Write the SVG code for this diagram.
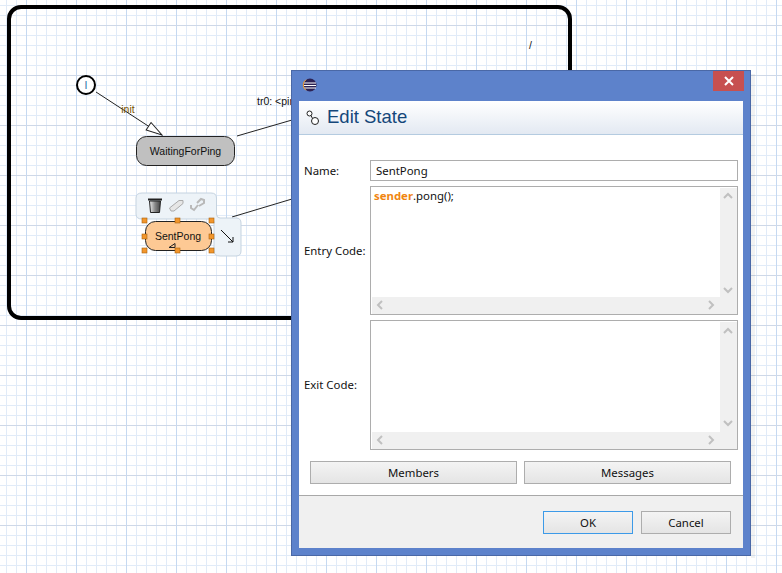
<svg xmlns="http://www.w3.org/2000/svg" width="782" height="573" viewBox="0 0 782 573">
<style>
.d{font-family:"Noto Sans","Open Sans",sans-serif;font-size:11.4px;fill:#111}
.c{text-anchor:middle}
.s{font-family:"Liberation Sans",Arial,sans-serif;font-size:10.500px;fill:#111}
.box{fill:#fff;stroke:#adadad;stroke-width:1}
.sb{fill:#f0f0f0}
.ch{fill:none;stroke:#c0c0c0;stroke-width:2}
.btn{fill:url(#bg);stroke:#adadad;stroke-width:1}
.h{fill:#f2962c;stroke:#a8620f;stroke-width:.6}
.st{stroke:#222;stroke-width:1;}
</style>
<defs>
<pattern id="minor" width="10" height="10" x="6" y="5" patternUnits="userSpaceOnUse"><path d="M.5 0V10M0 .5H10" stroke="#e1ebf8" stroke-width="1" fill="none"/></pattern>
<pattern id="major" width="50" height="50" x="26" y="25" patternUnits="userSpaceOnUse"><path d="M.5 0V50" stroke="#c6d9f1" stroke-width="1" fill="none"/><path d="M0 .5H50" stroke="#ced8e8" stroke-width="1" fill="none"/></pattern>
<linearGradient id="hd" x1="0" y1="0" x2="0" y2="1"><stop offset="0" stop-color="#fff"/><stop offset="1" stop-color="#e3e9f2"/></linearGradient>
<linearGradient id="bg" x1="0" y1="0" x2="0" y2="1"><stop offset="0" stop-color="#f4f4f4"/><stop offset="1" stop-color="#e4e4e4"/></linearGradient>
<linearGradient id="tr" x1="0" y1="0" x2="1" y2="0"><stop offset="0" stop-color="#eee"/><stop offset=".5" stop-color="#888"/><stop offset="1" stop-color="#444"/></linearGradient>
<marker id="open" markerWidth="18" markerHeight="12" refX="17" refY="6" orient="auto" markerUnits="userSpaceOnUse"><path d="M1 1.500L17 6L1 10.500Z" fill="#fff" stroke="#222" stroke-width="1"/></marker>
</defs>
<rect width="782" height="573" fill="#fff"/>
<rect width="782" height="573" fill="url(#minor)"/>
<rect width="782" height="573" fill="url(#major)"/>

<g id="frame"><rect x="9" y="7" width="561" height="311" rx="12" fill="none" stroke="#000" stroke-width="4"/><text x="529" y="49" class="s">/</text></g>

<g id="connectors" fill="none" stroke="#222" stroke-width="1">
<path d="M96 92L162 135" marker-end="url(#open)"/>
<path d="M237 136L292 120"/>
<path d="M232 217L292 199"/>
</g>
<g id="connector-labels">
<text x="128" y="113" class="s" text-anchor="middle" style="fill:#7a5200">init</text>
<text x="257" y="105" class="s">tr0: &lt;ping</text>
</g>

<g id="initial"><circle cx="86" cy="85" r="9" fill="#fff" stroke="#000" stroke-width="2"/><text x="86" y="89" class="s" text-anchor="middle" style="fill:#2a6fa8">I</text></g>

<g id="WaitingForPing"><rect x="136.500" y="136.500" width="98" height="29" rx="10" fill="#c0c0c0" class="st"/><text x="185.500" y="155" class="s" text-anchor="middle">WaitingForPing</text></g>

<g id="toolbar">
<path d="M142 193H211Q216.500 193 216.500 198V214Q216.500 218 220 218H236Q241 218 241 223V251Q241 256 236 256H220Q214 256 214 251V222Q214 219 210 219H142Q136 219 136 214V198Q136 193 142 193Z" fill="#edf3f8" stroke="#c5d3e0" stroke-width="1"/>
<g id="trash"><path d="M149.500 201H160.500L159.500 212.500H150.500Z" fill="url(#tr)" stroke="#222" stroke-width="1"/><path d="M148 199.500H162" stroke="#222" stroke-width="2"/></g>
<path id="eraser" d="M169.500 208L179 200.500H183L183 203.500L174 211H171Z" fill="#e6e6e6" stroke="#aaa" stroke-width="1"/>
<g id="sync" fill="none" stroke="#b9b9b9" stroke-width="2"><path d="M191 205L191 208L194 210L198 205M199 206L204 203L204 200L201 199L197 203"/></g>
<path d="M221 230L233 242M233 237V242H228" fill="none" stroke="#111" stroke-width="1"/>
</g>

<g id="SentPong"><rect x="145.500" y="221.500" width="66" height="29" rx="10" fill="#fdc994" class="st"/><text x="178" y="240" class="s" text-anchor="middle">SentPong</text>
<path d="M169 247.500L175 243.500V247.500Z" fill="none" stroke="#222"/>
<g id="handles">
<rect class="h" x="142" y="218" width="5" height="5"/><rect class="h" x="175" y="218" width="5" height="5"/><rect class="h" x="209" y="218" width="5" height="5"/>
<rect class="h" x="142" y="234" width="5" height="5"/><rect class="h" x="209" y="234" width="5" height="5"/>
<rect class="h" x="142" y="248" width="5" height="5"/><rect class="h" x="175" y="248" width="5" height="5"/><rect class="h" x="209" y="248" width="5" height="5"/>
</g></g>

<g id="dialog">
<rect x="291" y="70" width="460" height="486" fill="#5d82cb"/>
<rect x="291.500" y="70.500" width="459" height="485" fill="none" stroke="#4a68a6"/>
<rect x="751" y="74" width="4" height="484" fill="#000" opacity=".05"/>
<rect x="299" y="101" width="444" height="447" fill="#fff"/>
<rect x="299" y="101" width="444" height="33" fill="url(#hd)"/>
<rect x="299" y="134" width="444" height="1" fill="#b4cbe0"/>
<rect x="299" y="495" width="444" height="53" fill="#f0f0f0"/>
<rect x="299" y="495" width="444" height="1" fill="#a8a8a8"/>
<rect x="713" y="71" width="31" height="20" fill="#c75050"/>
<path d="M725 77L733 85M733 77L725 85" stroke="#fff" stroke-width="2"/>
<g id="eclipse-icon"><circle cx="310" cy="85" r="6.500" fill="#2c2255"/><path d="M304 83H316M304 85.500H316M304 88H316" stroke="#fff" stroke-width="1"/><path d="M306 79.700A6.500 6.500 0 0 0 306 90.300" fill="none" stroke="#f39a2c" stroke-width="1"/></g>
<g id="state-icon" fill="#fff" stroke="#222" stroke-width="1"><circle cx="309.500" cy="113.500" r="2.500"/><circle cx="315" cy="121" r="3.500"/><path d="M311 115.500L312.500 118.500" fill="none"/></g>
<text x="327" y="123" style="font-family:'Liberation Sans',Arial,sans-serif;font-size:18.500px;fill:#14477a">Edit State</text>

<text x="304" y="175" class="d">Name:</text>
<text x="304" y="255" class="d">Entry Code:</text>
<text x="304" y="389" class="d">Exit Code:</text>

<rect class="box" x="370.500" y="160.500" width="367" height="20"/>
<text x="376" y="175" class="d">SentPong</text>

<g id="entry-code"><rect class="box" x="370.500" y="186.500" width="367" height="128"/>
<rect class="sb" x="720" y="188" width="17" height="126"/><rect class="sb" x="372" y="297" width="365" height="17"/>
<path class="ch" d="M724 198L728 194L732 198"/><path class="ch" d="M724 288L728 292L732 288"/><path class="ch" d="M382 301L378 305L382 309"/><path class="ch" d="M709 301L713 305L709 309"/>
<text x="374" y="200" class="d"><tspan style="font-weight:700;fill:#f08510">sender</tspan>.pong();</text></g>

<g id="exit-code"><rect class="box" x="370.500" y="320.500" width="367" height="129"/>
<rect class="sb" x="720" y="322" width="17" height="127"/><rect class="sb" x="372" y="432" width="365" height="17"/>
<path class="ch" d="M724 333L728 329L732 333"/><path class="ch" d="M724 421L728 425L732 421"/><path class="ch" d="M382 436L378 440L382 444"/><path class="ch" d="M709 436L713 440L709 444"/></g>

<g id="btn-members"><rect class="btn" x="310.500" y="461.500" width="206" height="22"/><text x="413.500" y="477" class="d c">Members</text></g>
<g id="btn-messages"><rect class="btn" x="524.500" y="461.500" width="206" height="22"/><text x="627.500" y="477" class="d c">Messages</text></g>
<g id="btn-ok"><rect class="btn" x="543.500" y="511.500" width="89" height="22" style="stroke:#3c9ae8"/><text x="588" y="527" class="d c">OK</text></g>
<g id="btn-cancel"><rect class="btn" x="641.500" y="511.500" width="89" height="22"/><text x="686" y="527" class="d c">Cancel</text></g>
</g>
</svg>
